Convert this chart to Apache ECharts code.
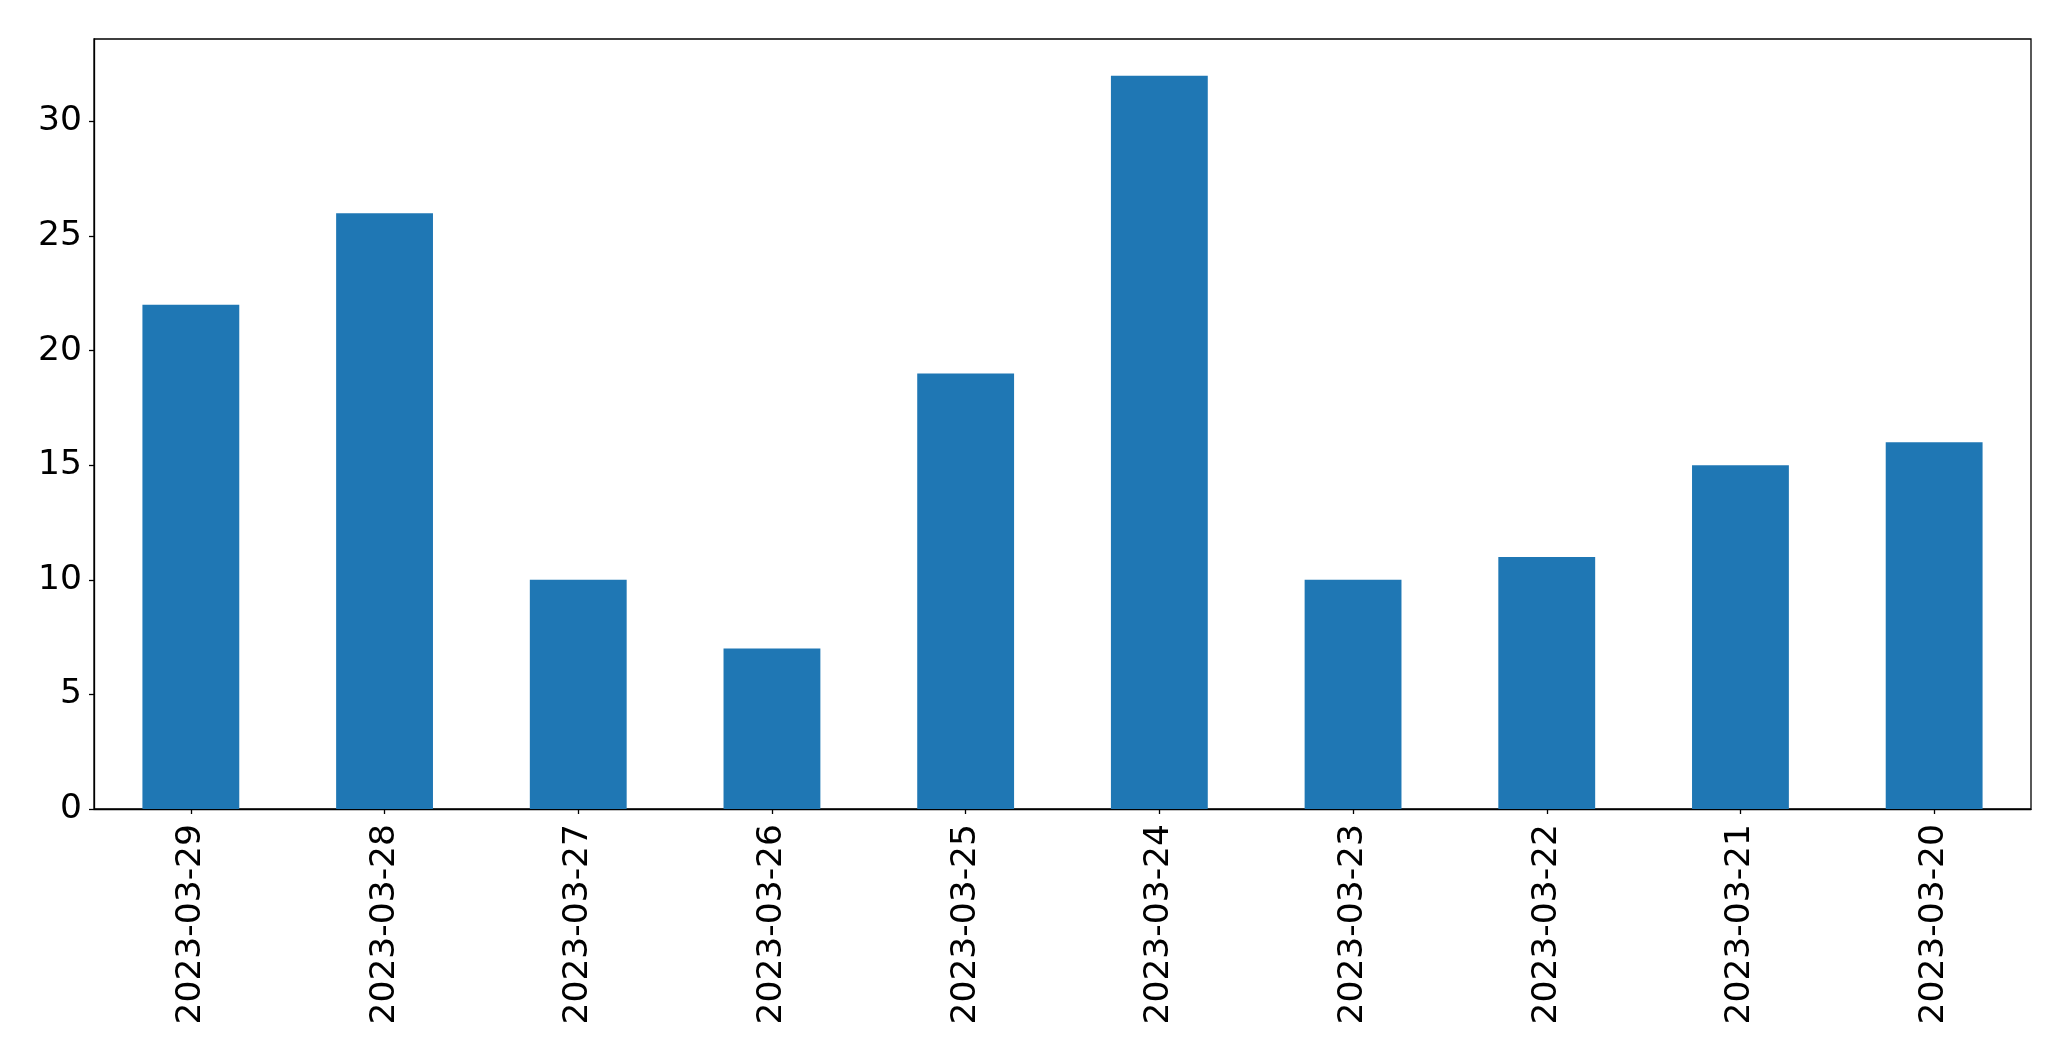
<!DOCTYPE html>
<html>
<head>
<meta charset="utf-8">
<script src="https://cdn.jsdelivr.net/npm/echarts@6/dist/echarts.min.js"></script>
<style>
html,body{margin:0;padding:0;background:#fff;}
#c{width:2071px;height:1061px;}
</style>
</head>
<body>
<div id="c"></div>
<script>
const categories = ["2023-03-29","2023-03-28","2023-03-27","2023-03-26","2023-03-25","2023-03-24","2023-03-23","2023-03-22","2023-03-21","2023-03-20"];
const values = [22, 26, 10, 7, 19, 32, 10, 11, 15, 16];
const yTicks = [0, 5, 10, 15, 20, 25, 30];

const chart = echarts.init(document.getElementById('c'), null, {renderer: 'canvas'});
const font = 'DejaVu Sans';
chart.setOption({
  animation: false,
  backgroundColor: '#ffffff',
  grid: {left: 94, right: 40, top: 39, bottom: 252, show: true, borderColor: '#000', borderWidth: 1.3, containLabel: false},
  xAxis: {
    type: 'category',
    data: categories,
    axisLine: {show: true, lineStyle: {color: '#000', width: 1.3}},
    axisTick: {show: true, alignWithLabel: true, length: 5, lineStyle: {color: '#000', width: 1.3}},
    axisLabel: {rotate: 90, margin: 15, fontSize: 34.5, fontFamily: font, color: '#000', interval: 0}
  },
  yAxis: {
    type: 'value',
    min: 0,
    max: 33.6,
    interval: 5,
    splitLine: {show: false},
    axisLine: {show: true, lineStyle: {color: '#000', width: 1.3}},
    axisTick: {show: true, length: 5, customValues: yTicks, lineStyle: {color: '#000', width: 1.3}},
    axisLabel: {margin: 12, fontSize: 34.5, fontFamily: font, color: '#000', customValues: yTicks,
      padding: [9, 0, 0, 0],
      formatter: function(v){ return yTicks.indexOf(v) >= 0 ? String(v) : ''; }}
  },
  series: [{
    type: 'bar',
    data: values,
    barWidth: '50%',
    itemStyle: {color: '#1f77b4'}
  }]
});
</script>
</body>
</html>
